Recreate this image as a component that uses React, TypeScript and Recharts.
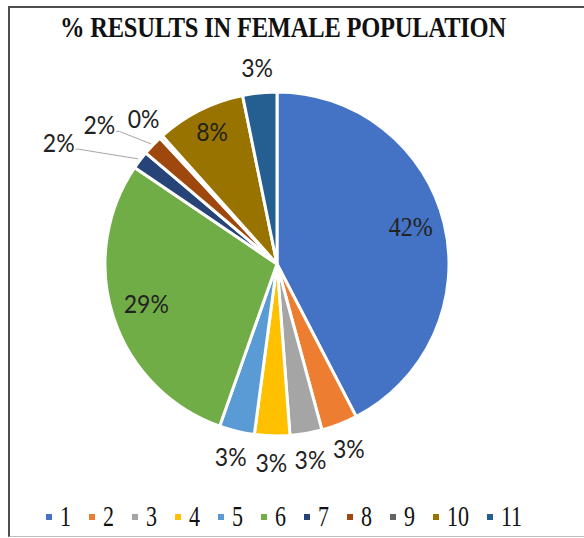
import React from "react";
import { PieChart, Pie, Cell, Legend } from "recharts";

// slice order is clockwise from 12 o'clock
const categories = ["1", "2", "3", "4", "5", "6", "7", "8", "9", "10", "11"];
const shares = [42.3, 3.4, 3.0, 3.3, 3.3, 29.0, 1.7, 1.9, 0.3, 8.4, 3.2];
const colors = [
  "#4472C4", "#ED7D31", "#A5A5A5", "#FFC000", "#5B9BD5", "#70AD47",
  "#264478", "#9E480E", "#636363", "#997300", "#255E91",
];

const data = categories.map((name, i) => ({ name, value: shares[i] }));

const RAD = Math.PI / 180;
// labels pulled off to the left with a leader line (slices 7 and 8)
const callouts: Record<number, { dist: number; shift: number }> = {
  6: { dist: 78, shift: 8 },
  7: { dist: 54, shift: 5.5 },
};

function renderLabel(props: any) {
  const { cx, cy, midAngle, outerRadius, percent, index } = props;
  const text = `${Math.round(percent * 100)}%`;
  const inside = percent > 0.05;
  const callout = callouts[index];
  let r = outerRadius + 26;
  let a = midAngle;
  if (inside) r = outerRadius * (percent < 0.1 ? 0.84 : 0.8);
  else if (callout) {
    r = outerRadius + callout.dist;
    a = midAngle + callout.shift;
  }
  const x = cx + r * Math.cos(-a * RAD);
  const y = cy + r * Math.sin(-a * RAD) - (inside ? 4 : 0);
  const serif = percent > 0.4;
  const family = serif ? "'Liberation Serif', serif" : "Lato, sans-serif";
  const fontSize = serif ? 24 : 23;
  const sy = serif ? 1.13 : 1.1;
  let line = null;
  if (callout) {
    const ex = cx + (outerRadius + 2) * Math.cos(-midAngle * RAD);
    const ey = cy + (outerRadius + 2) * Math.sin(-midAngle * RAD);
    line = <polyline points={`${ex},${ey} ${x + 20},${y + 7} ${x + 17},${y + 7}`} fill="none" stroke="#A6A6A6" strokeWidth={1} />;
  }
  return (
    <g key={`lbl-${index}`}>
      {line}
      <text
        transform={`translate(${x},${y}) scale(1,${sy})`}
        textAnchor="middle"
        dominantBaseline="central"
        style={{ fontFamily: family, fontSize, fill: "#222" }}
      >
        {text}
      </text>
    </g>
  );
}

function LegendRow() {
  return (
    <div style={{ display: "flex", justifyContent: "center", alignItems: "center", width: 568 }}>
      {categories.map((c, i) => (
        <div key={c} style={{ display: "flex", alignItems: "center", marginRight: i === categories.length - 1 ? 0 : 18 }}>
          <span style={{ width: 6, height: 6, background: colors[i], display: "inline-block", marginRight: 8 }} />
          <span
            style={{
              fontFamily: "'Liberation Serif', serif",
              fontSize: 22,
              color: "#111",
              display: "inline-block",
              transform: "scaleY(1.35)",
              lineHeight: "22px",
            }}
          >
            {c}
          </span>
        </div>
      ))}
    </div>
  );
}

export default function App() {
  return (
    <div style={{ position: "absolute", left: 0, top: 0, width: 584, height: 538, background: "#fff", overflow: "hidden" }}>
      <div
        style={{
          position: "absolute",
          left: 8,
          top: 6,
          width: 600,
          height: 528,
          borderTop: "2px solid #4d4d4d",
          borderLeft: "2px solid #4d4d4d",
          borderBottom: "1px solid #bdbdbd",
        }}
      />
      <div
        style={{
          position: "absolute",
          left: 0,
          top: 13,
          width: 566,
          textAlign: "center",
          fontFamily: "'Liberation Serif', serif",
          fontWeight: "bold",
          fontSize: 24.5,
          letterSpacing: -0.2,
          color: "#111",
          transform: "scaleY(1.2)",
          lineHeight: "28px",
        }}
      >
        % RESULTS IN FEMALE POPULATION
      </div>
      <PieChart
        width={584}
        height={538}
        margin={{ top: 0, right: 0, bottom: 0, left: 0 }}
        style={{ position: "absolute", left: 0, top: 0 }}
      >
        <Pie
          data={data}
          dataKey="value"
          nameKey="name"
          cx={277}
          cy={264}
          outerRadius={172}
          startAngle={90}
          endAngle={-270}
          stroke="#fff"
          strokeWidth={3}
          label={renderLabel}
          labelLine={false}
          isAnimationActive={false}
        >
          {data.map((d, i) => (
            <Cell key={d.name} fill={colors[i]} />
          ))}
        </Pie>
        <Legend
          content={() => <LegendRow />}
          wrapperStyle={{ position: "absolute", left: 0, top: 506, width: 568 }}
        />
      </PieChart>
    </div>
  );
}
